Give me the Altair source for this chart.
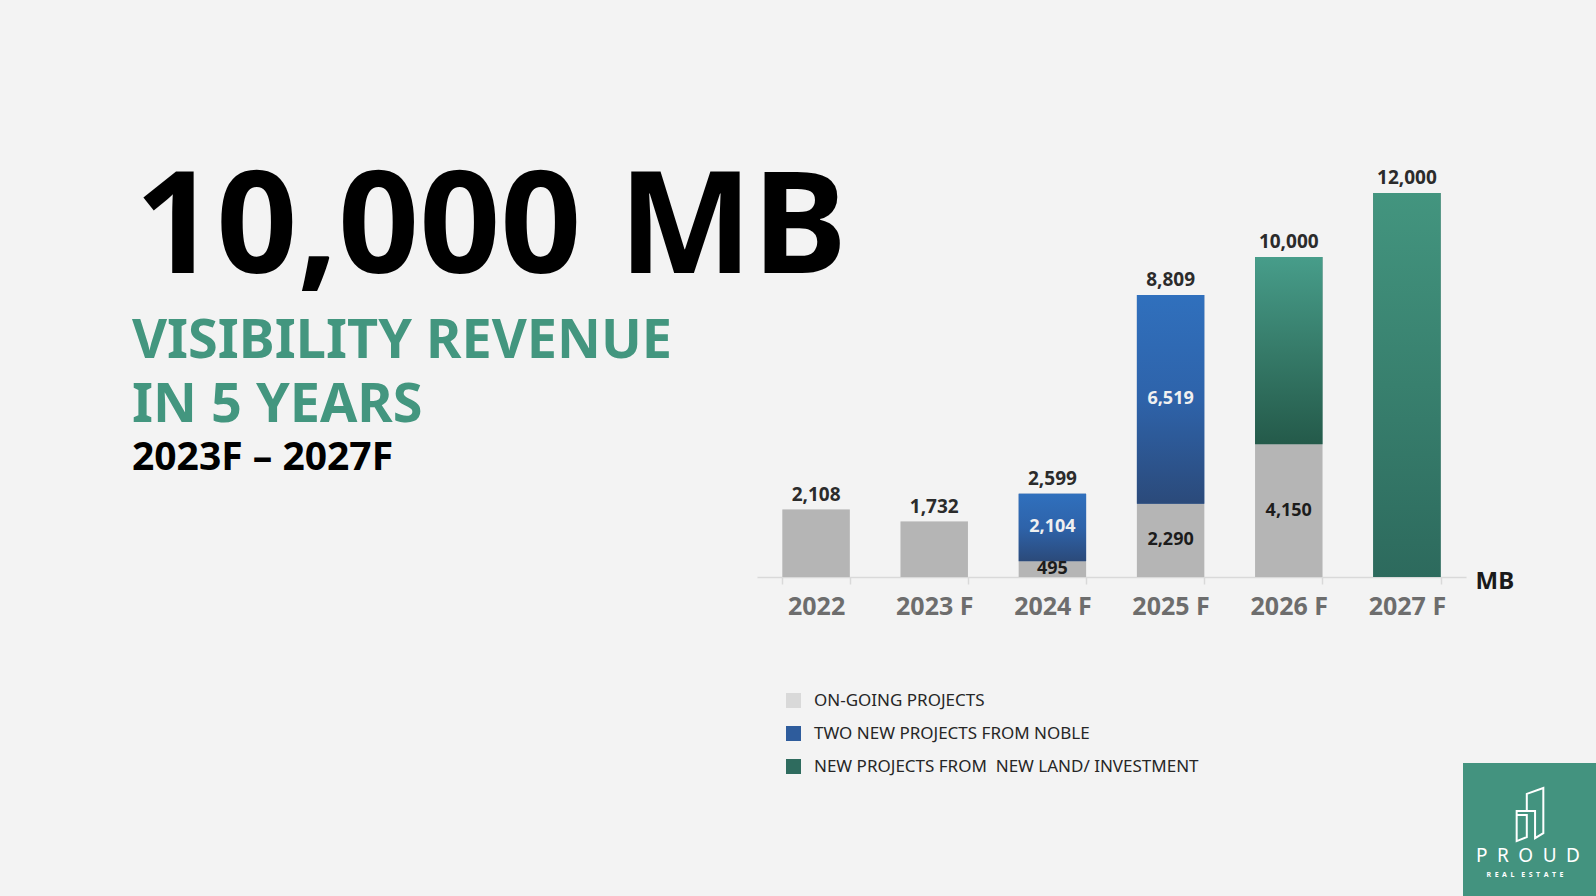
import altair as alt
import pandas as pd

# ---- data ----
years = ["2022", "2023 F", "2024 F", "2025 F", "2026 F", "2027 F"]
ongoing = [2108, 1732, 495, 2290, 4150, 0]
noble = [0, 0, 2104, 6519, 0, 0]
new_land = [0, 0, 0, 0, 5850, 12000]
series_names = [
    "ON-GOING PROJECTS",
    "TWO NEW PROJECTS FROM NOBLE",
    "NEW PROJECTS FROM\u00a0 NEW LAND/ INVESTMENT",
]

rows = []
for i, yr in enumerate(years):
    for k, vals in enumerate([ongoing, noble, new_land]):
        rows.append({"year": yr, "series": series_names[k], "order": k, "value": vals[i]})
df = pd.DataFrame(rows)

FONT = "Noto Sans"

x_enc = alt.X(
    "year:N",
    scale=alt.Scale(domain=years, paddingInner=0.43, paddingOuter=0.215),
    axis=alt.Axis(
        title="MB", labelAngle=0, labelFont=FONT, labelFontSize=25, labelFontWeight="bold",
        labelColor="#6d6d6d", labelPadding=10, tickBand="extent", tickSize=7,
        tickColor="#d9d9d9", tickWidth=1.5, domainColor="#d9d9d9", domainWidth=1.5,
        titleX=718, titleY=4, titleAlign="left", titleBaseline="middle", titleFont=FONT,
        titleFontSize=24, titleFontWeight="bold", titleColor="#1a1a1a", grid=False,
    ),
)
yscale = alt.Scale(domain=[0, 12000], nice=False)

stacked = alt.Chart(df).transform_stack(
    stack="value", groupby=["year"], as_=["v0", "v1"],
    sort=[alt.SortField("order", order="ascending")],
)

legend_layer = stacked.mark_bar().encode(
    x=x_enc,
    y=alt.Y("v0:Q", scale=yscale, axis=None),
    y2="v1:Q",
    color=alt.Color(
        "series:N",
        scale=alt.Scale(domain=series_names, range=["#d9d9d9", "#2e5c9c", "#2e6b5e"]),
        legend=alt.Legend(
            title=None, orient="none", legendX=28, legendY=499, symbolType="square",
            symbolSize=225, symbolStrokeWidth=0, labelFont=FONT, labelFontSize=17,
            labelColor="#262626", labelOffset=12, rowPadding=15, padding=0, labelLimit=600,
        ),
    ),
)

def grad(top, mid, bottom):
    return alt.Gradient(
        gradient="linear", x1=0, x2=0, y1=0, y2=1,
        stops=[alt.GradientStop(color=top, offset=0),
               alt.GradientStop(color=mid, offset=0.5),
               alt.GradientStop(color=bottom, offset=1)],
    )

def seg(filter_expr, color):
    return stacked.transform_filter(filter_expr).mark_bar(color=color).encode(
        x=x_enc, y=alt.Y("v0:Q", scale=yscale, axis=None), y2="v1:Q"
    )

gray = seg("datum.order == 0", "#b5b5b5")
blue = seg("datum.order == 1", grad("#3070bd", "#2e63aa", "#2b4a7a"))
green26 = seg("datum.order == 2 && datum.year == '2026 F'", grad("#479d8a", "#367b69", "#245a4a"))
green27 = seg("datum.order == 2 && datum.year == '2027 F'", grad("#43957f", "#38806e", "#2d6a5d"))

totals = alt.Chart(df).transform_aggregate(
    total="sum(value)", groupby=["year"]
).mark_text(
    baseline="alphabetic", dy=-9, font=FONT, fontSize=19, fontWeight="bold", color="#2b2b2b"
).encode(
    x=x_enc, y=alt.Y("total:Q", scale=yscale, axis=None),
    text=alt.Text("total:Q", format=","),
)

inner = stacked.transform_joinaggregate(
    total="sum(value)", groupby=["year"]
).transform_filter(
    "datum.value > 0 && datum.value < datum.total && datum.order < 2"
).transform_calculate(
    mid="(datum.v0 + datum.v1) / 2"
).mark_text(
    baseline="middle", font=FONT, fontSize=18, fontWeight="bold"
).encode(
    x=x_enc, y=alt.Y("mid:Q", scale=yscale, axis=None),
    text=alt.Text("value:Q", format=","),
    color=alt.condition("datum.order == 1", alt.value("#f0f0f0"), alt.value("#1c1c1c")),
)

def note(text, x, y, size, color, weight="bold", align="left"):
    return alt.Chart(pd.DataFrame({"t": [text]})).mark_text(
        align=align, baseline="alphabetic", font=FONT, fontSize=size,
        fontWeight=weight, color=color,
    ).encode(text="t:N", x=alt.value(x), y=alt.value(y))

t_big = note("10,000 MB", -622, 80, 142, "#000000")
t_vis = note("VISIBILITY REVENUE", -625, 165, 54, "#43967f")
t_in5 = note("IN 5 YEARS", -625, 229, 54, "#43967f")
t_rng = note("2023F \u2013 2027F", -625, 277, 39, "#000000")

logo_rect = alt.Chart(pd.DataFrame({"k": [0]})).mark_rect(color="#43937f").encode(
    x=alt.value(706), x2=alt.value(839), y=alt.value(570), y2=alt.value(703)
)
icon_path = ("M -0.12 -0.14 L -0.12 -0.78 L 0.5 -1 L 0.5 0.69 L 0.19 0.88 L 0.19 -0.14 "
             "L -0.5 -0.14 L -0.5 0.99 L -0.12 0.84 L -0.12 0.01 L -0.5 0.01")
logo_icon = alt.Chart(pd.DataFrame({"k": [0]})).mark_point(
    shape=icon_path, size=2844, filled=False, stroke="white", strokeWidth=2, opacity=1
).encode(x=alt.value(773), y=alt.value(621.7))
proud = note("P\u2002R\u2002O\u2002U\u2002D", 771, 669, 19, "#ffffff", weight="normal", align="center")
real_estate = note("R\u2002E\u2002A\u2002L\u2003E\u2002S\u2002T\u2002A\u2002T\u2002E", 768, 684, 7, "#ffffff", align="center")

chart = alt.layer(
    legend_layer, gray, blue, green26, green27, totals, inner,
    t_big, t_vis, t_in5, t_rng, logo_rect, logo_icon, proud, real_estate,
).properties(
    width=709, height=384,
    autosize=alt.AutoSizeParams(type="none"),
    padding={"left": 757, "top": 193, "right": 130, "bottom": 319},
).configure(background="#f3f3f3").configure_view(stroke=None)

chart.save("out.html", embed_options={"renderer": "svg", "actions": False})
